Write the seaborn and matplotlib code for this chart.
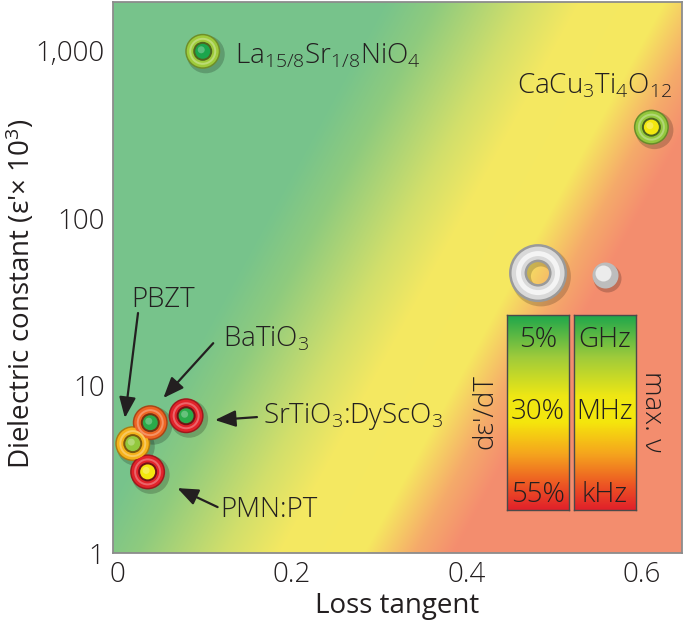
import numpy as np
import pandas as pd
import matplotlib
matplotlib.use("Agg")
import matplotlib.pyplot as plt
import seaborn as sns
from matplotlib.colors import LinearSegmentedColormap, to_rgb
from matplotlib import transforms

# ---------------- data ----------------
materials = ["La$_{\\mathregular{15/8}}$Sr$_{\\mathregular{1/8}}$NiO$_{\\mathregular{4}}$",
             "CaCu$_{\\mathregular{3}}$Ti$_{\\mathregular{4}}$O$_{\\mathregular{12}}$",
             "PBZT", "BaTiO$_{\\mathregular{3}}$",
             "SrTiO$_{\\mathregular{3}}$:DyScO$_{\\mathregular{3}}$", "PMN:PT"]
loss_tangent = [0.098, 0.611, 0.018, 0.038, 0.079, 0.035]
dielectric_constant = [990, 349, 4.5, 6.0, 6.6, 3.05]
temp_coeff_level = [0.22, 0.20, 0.68, 0.84, 0.99, 0.99]   # 0 = 5 %, 0.5 = 30 %, 1 = 55 %
max_freq_level = [0.0, 0.5, 0.2, 0.03, 0.03, 0.5]        # 0 = GHz, 0.5 = MHz, 1 = kHz

x_ticks = [0, 0.2, 0.4, 0.6]
x_tick_labels = ["0", "0.2", "0.4", "0.6"]
y_ticks = [1, 10, 100, 1000]
y_tick_labels = ["1", "10", "100", "1,000"]
bar_left_labels = ["5%", "30%", "55%"]
bar_right_labels = ["GHz", "MHz", "kHz"]

df = pd.DataFrame({"material": materials, "loss": loss_tangent,
                   "eps": dielectric_constant,
                   "ring": temp_coeff_level, "core": max_freq_level})

# ---------------- style ----------------
sns.set_theme(style="white")
plt.rcParams.update({
    "font.family": ["Open Sans Light", "Open Sans", "DejaVu Sans"],
    "font.weight": "light",
    "mathtext.fontset": "custom",
    "mathtext.rm": "Open Sans:light",
    "mathtext.it": "Open Sans:italic:light",
    "mathtext.bf": "Open Sans:bold",
})
TXT = "#231f20"
FS = 20

scale_cmap = LinearSegmentedColormap.from_list(
    "scale", [(0.0, "#1ba64c"), (0.22, "#9fcb3b"), (0.42, "#efe714"),
              (0.55, "#f5e70c"), (0.72, "#f5a21e"), (0.88, "#ec5224"),
              (1.0, "#e1202a")])

def mix(c, other, f):
    c = np.array(to_rgb(c)); o = np.array(to_rgb(other))
    return tuple(c * (1 - f) + o * f)

fig = plt.figure(figsize=(6.85, 6.29), dpi=100)
pos = [113 / 685, 1 - 553 / 629, 569 / 685, 551 / 629]

# background gradient
bg = fig.add_axes(pos, zorder=0)
W, H = 569, 551
U, V = np.meshgrid((np.arange(W) + 0.5) / W, (np.arange(H) + 0.5) / H)
T = 414.4 + 569 * U - 300.3 * V
stops_t = [390, 440, 525, 580, 665, 715, 755]
stops_c = ["#78c48b", "#8fcb7e", "#d2df6b", "#f4e862", "#f6e960", "#f5ab6a", "#f48d6f"]
rgb = np.array([to_rgb(c) for c in stops_c])
img = np.stack([np.interp(T, stops_t, rgb[:, k]) for k in range(3)], axis=-1)
bg.imshow(img, origin="lower", extent=[0, 1, 0, 1], aspect="auto")
bg.set_axis_off()

ax = fig.add_axes(pos, zorder=1)
ax.set_facecolor("none")
ax.set_yscale("log")

ring_c = [scale_cmap(v) for v in df["ring"]]
core_c = [scale_cmap(v) for v in df["core"]]

def layer(diam_px, colors, zorder, alpha=1.0, dx=0.0, dy=0.0):
    trans = ax.transData
    if dx or dy:
        trans = ax.transData + transforms.ScaledTranslation(dx / 100, dy / 100, fig.dpi_scale_trans)
    sns.scatterplot(data=df, x="loss", y="eps", hue="material", hue_order=materials,
                    palette=dict(zip(materials, colors)), s=(diam_px * 0.72) ** 2,
                    linewidth=0, alpha=alpha, legend=False, zorder=zorder, ax=ax,
                    transform=trans)

layer(38, ["#000000"] * 6, 3, alpha=0.2, dx=3, dy=-3)
layer(35, [mix(c, "black", 0.3) for c in ring_c], 4)
layer(32, ring_c, 5)
layer(27, [mix(c, "white", 0.30) for c in ring_c], 6)
layer(23, ring_c, 7)
layer(19, [mix(c, "black", 0.5) for c in ring_c], 8)
layer(15, core_c, 9)
layer(7, [mix(c, "white", 0.35) for c in core_c], 10, alpha=0.8, dx=-1.5, dy=1.5)

# labels and arrows
kw = dict(fontsize=FS, color=TXT)
ax.text(0.135, 842, materials[0], ha="left", va="baseline", **kw)
ax.text(0.634, 557, materials[1], ha="right", va="baseline", **kw)
ax.text(0.0526, 29.4, materials[2], ha="center", va="baseline", **kw)
ax.text(0.121, 17.0, materials[3], ha="left", va="baseline", **kw)
ax.text(0.167, 5.97, materials[4], ha="left", va="baseline", **kw)
ax.text(0.118, 1.64, materials[5], ha="left", va="baseline", **kw)

ap = dict(arrowstyle="-|>,head_length=0.7,head_width=0.28", color=TXT, lw=1.6,
          mutation_scale=18, shrinkA=0, shrinkB=0)
for tail, head in [((0.024, 27.1), (0.009, 6.4)),
                   ((0.110, 17.9), (0.053, 8.42)),
                   ((0.160, 6.48), (0.112, 6.22)),
                   ((0.115, 1.88), (0.069, 2.44))]:
    ax.annotate("", xy=head, xytext=tail, arrowprops=ap, zorder=11)

# legend icons
ax.scatter([0.747 + 0.005], [0.508 - 0.006], s=(40 * 0.72) ** 2, facecolor="none",
           edgecolor="black", alpha=0.18, linewidth=20 * 0.72,
           transform=ax.transAxes, zorder=3)
ax.scatter([0.747], [0.508], s=(40 * 0.72) ** 2, facecolor="none", edgecolor="#9a9a9a",
           linewidth=18 * 0.72, transform=ax.transAxes, zorder=4)
ax.scatter([0.747], [0.508], s=(40 * 0.72) ** 2, facecolor="none", edgecolor="#d9d9d9",
           linewidth=13 * 0.72, transform=ax.transAxes, zorder=5)
ax.scatter([0.747], [0.508], s=(39 * 0.72) ** 2, facecolor="none", edgecolor="#f4f4f4",
           linewidth=5 * 0.72, transform=ax.transAxes, zorder=6)
ax.scatter([0.8647 + 0.004], [0.5045 - 0.005], s=(28 * 0.72) ** 2, color="black", alpha=0.2,
           transform=ax.transAxes, zorder=3, linewidth=0)
ax.scatter([0.8647], [0.5045], s=(26 * 0.72) ** 2, color="#bdbdbd",
           transform=ax.transAxes, zorder=4, linewidth=0)
ax.scatter([0.8647 - 0.004], [0.5045 + 0.004], s=(16 * 0.72) ** 2, color="#ececec",
           transform=ax.transAxes, zorder=5, linewidth=0)

grad = np.linspace(0, 1, 256)[:, None]
for x0, labels in [(0.6924, bar_left_labels), (0.810, bar_right_labels)]:
    cax = ax.inset_axes([x0, 0.078, 0.109, 0.354])
    cax.imshow(grad, cmap=scale_cmap, aspect="auto", extent=[0, 1, 0, 1], origin="upper")
    cax.set_xticks([]); cax.set_yticks([])
    for sp in cax.spines.values():
        sp.set_color("#4a4a4a"); sp.set_linewidth(1.0)
    for yy, lab in zip([0.872, 0.503, 0.077], labels):
        cax.text(0.5, yy, lab, ha="center", va="center", transform=cax.transAxes, **kw)

ax.text(0.654, 0.256, "d\u03b5'/dT", rotation=90, ha="center", va="center",
        transform=ax.transAxes, **kw)
ax.text(0.947, 0.256, "max. \u03bd", rotation=-90, ha="center", va="center",
        transform=ax.transAxes, **kw)

# axes
ax.set_xlim(-0.0046, 0.646)
ax.set_ylim(1, 1950)
ax.set_xticks(x_ticks)
ax.set_xticklabels(x_tick_labels)
ax.set_yticks(y_ticks)
ax.set_yticklabels(y_tick_labels)
ax.minorticks_off()
ax.tick_params(length=0, labelsize=FS, labelcolor=TXT, pad=6)
for sp in ax.spines.values():
    sp.set_color("#8c8c8c"); sp.set_linewidth(1.3)
ax.set_xlabel("Loss tangent", fontsize=FS, color=TXT)
ax.set_ylabel("Dielectric constant (\u03b5'\u00d7 10$^{\\mathregular{3}}$)", fontsize=FS, color=TXT)
ax.xaxis.set_label_coords(0.5, -0.07)
ax.yaxis.set_label_coords(-0.133, 0.47)

fig.savefig("out.png", dpi=100)
